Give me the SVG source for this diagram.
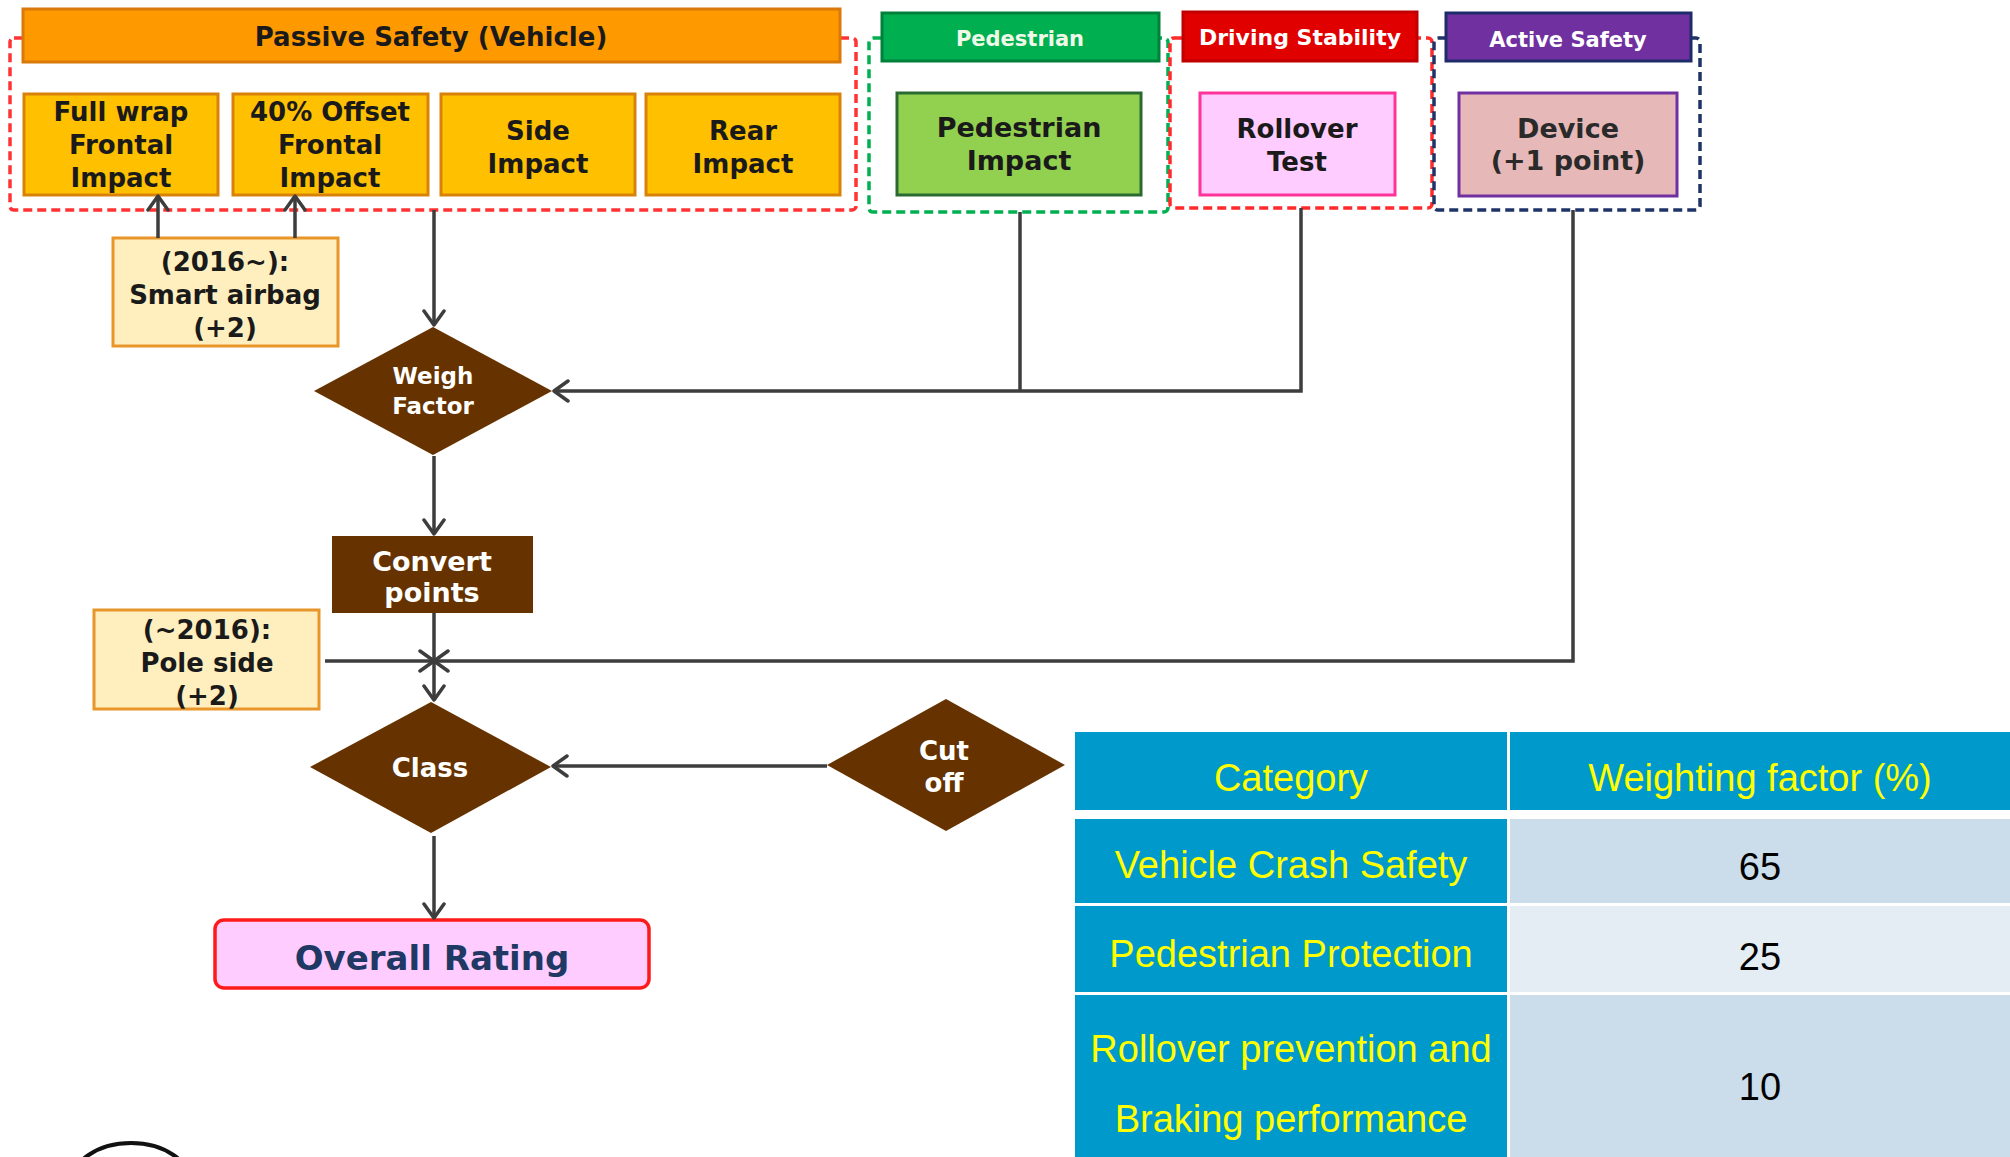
<svg xmlns="http://www.w3.org/2000/svg" width="2010" height="1157" viewBox="0 0 2010 1157">
<defs>
<marker id="arr" viewBox="0 0 18 24" refX="16" refY="12" markerWidth="18" markerHeight="24" markerUnits="userSpaceOnUse" orient="auto">
<path d="M2,2 L16,12 L2,22" fill="none" stroke="#3d3d3d" stroke-width="3.5" stroke-linecap="round" stroke-linejoin="round"/>
</marker>
<style>
.ft{font-family:"DejaVu Sans","Liberation Sans",sans-serif;font-weight:bold;text-anchor:middle;}
.dk{fill:#1a1a1a;}
.wt{fill:#ffffff;}
.imp{fill:#FFC000;stroke:#D9820A;stroke-width:3;}
.note{fill:#FFEFBF;stroke:#E8962A;stroke-width:3;}
.brown{fill:#663300;}
.dash{fill:none;stroke-width:3.5;stroke-dasharray:9 5;}
.conn{fill:none;stroke:#3d3d3d;stroke-width:3.5;}
.tb{font-family:"Liberation Sans",Arial,sans-serif;font-size:38px;text-anchor:middle;}
.yl{fill:#FFFF00;}
.blue{fill:#0099CC;}
</style>
</defs>
<rect width="2010" height="1157" fill="#ffffff"/>

<!-- dashed group boxes -->
<g id="groups">
<rect class="dash" x="10" y="38" width="846" height="172" rx="4" stroke="#FF3333"/>
<rect class="dash" x="869" y="38" width="299" height="174" rx="4" stroke="#00B050"/>
<rect class="dash" x="1170" y="38" width="262" height="170" rx="4" stroke="#FF2A2A"/>
<rect class="dash" x="1434" y="38" width="266" height="172" rx="4" stroke="#1F3366"/>
</g>

<g id="passive-header">
<rect x="23" y="9" width="817" height="53" fill="#FF9900" stroke="#D9790A" stroke-width="3"/>
<text class="ft dk" x="431" y="46" font-size="26">Passive Safety (Vehicle)</text>
</g>
<g id="full-wrap">
<rect class="imp" x="24" y="94" width="194" height="101"/>
<text class="ft dk" x="121" y="121" font-size="26">Full wrap</text>
<text class="ft dk" x="121" y="154" font-size="26">Frontal</text>
<text class="ft dk" x="121" y="187" font-size="26">Impact</text>
</g>
<g id="offset">
<rect class="imp" x="233" y="94" width="195" height="101"/>
<text class="ft dk" x="330" y="121" font-size="26">40% Offset</text>
<text class="ft dk" x="330" y="154" font-size="26">Frontal</text>
<text class="ft dk" x="330" y="187" font-size="26">Impact</text>
</g>
<g id="side">
<rect class="imp" x="441" y="94" width="194" height="101"/>
<text class="ft dk" x="538" y="140" font-size="26">Side</text>
<text class="ft dk" x="538" y="173" font-size="26">Impact</text>
</g>
<g id="rear">
<rect class="imp" x="646" y="94" width="194" height="101"/>
<text class="ft dk" x="743" y="140" font-size="26">Rear</text>
<text class="ft dk" x="743" y="173" font-size="26">Impact</text>
</g>

<g id="pedestrian-header">
<rect x="882" y="13" width="277" height="48" fill="#00B050" stroke="#00803A" stroke-width="3"/>
<text class="ft" x="1020" y="46" font-size="21" fill="#F0F8E8">Pedestrian</text>
</g>
<g id="pedestrian-impact">
<rect x="897" y="93" width="244" height="102" fill="#92D050" stroke="#2A6A30" stroke-width="3"/>
<text class="ft dk" x="1019" y="137" font-size="27">Pedestrian</text>
<text class="ft dk" x="1019" y="170" font-size="27">Impact</text>
</g>

<g id="driving-header">
<rect x="1183" y="12" width="234" height="49" fill="#E00000" stroke="#C00000" stroke-width="3"/>
<text class="ft wt" x="1300" y="45" font-size="22">Driving Stability</text>
</g>
<g id="rollover">
<rect x="1200" y="93" width="195" height="102" fill="#FFCCFF" stroke="#FF3399" stroke-width="3"/>
<text class="ft dk" x="1297" y="138" font-size="26">Rollover</text>
<text class="ft dk" x="1297" y="171" font-size="26">Test</text>
</g>

<g id="active-header">
<rect x="1446" y="13" width="245" height="48" fill="#7030A0" stroke="#1F2A6B" stroke-width="3"/>
<text class="ft wt" x="1568" y="47" font-size="21">Active Safety</text>
</g>
<g id="device">
<rect x="1459" y="93" width="218" height="103" fill="#E6B8B7" stroke="#7030A0" stroke-width="3"/>
<text class="ft" x="1568" y="138" font-size="27" fill="#2a2a2a">Device</text>
<text class="ft" x="1568" y="170" font-size="27" fill="#2a2a2a">(+1 point)</text>
</g>

<g id="smart-airbag">
<rect class="note" x="113" y="238" width="225" height="108"/>
<text class="ft dk" x="225" y="271" font-size="26">(2016~):</text>
<text class="ft dk" x="225" y="304" font-size="26">Smart airbag</text>
<text class="ft dk" x="225" y="337" font-size="26">(+2)</text>
</g>

<g id="weigh-factor">
<polygon class="brown" points="433,327 552,391 433,455 314,391"/>
<text class="ft wt" x="433" y="384" font-size="23">Weigh</text>
<text class="ft wt" x="433" y="414" font-size="23">Factor</text>
</g>

<g id="convert-points">
<rect class="brown" x="332" y="536" width="201" height="77"/>
<text class="ft wt" x="432" y="571" font-size="27">Convert</text>
<text class="ft wt" x="432" y="602" font-size="27">points</text>
</g>

<g id="pole-side">
<rect class="note" x="94" y="610" width="225" height="99"/>
<text class="ft dk" x="207" y="639" font-size="26">(~2016):</text>
<text class="ft dk" x="207" y="672" font-size="26">Pole side</text>
<text class="ft dk" x="207" y="705" font-size="26">(+2)</text>
</g>

<g id="class">
<polygon class="brown" points="431,702 551,767 431,833 310,767"/>
<text class="ft wt" x="430" y="777" font-size="26">Class</text>
</g>

<g id="cut-off">
<polygon class="brown" points="946,699 1065,765 946,831 827,765"/>
<text class="ft wt" x="944" y="760" font-size="26">Cut</text>
<text class="ft wt" x="944" y="792" font-size="26">off</text>
</g>

<g id="overall-rating">
<rect x="215" y="920" width="434" height="68" rx="9" fill="#FFCCFF" stroke="#FF1A1A" stroke-width="3.5"/>
<text class="ft" x="432" y="970" font-size="34" fill="#1F3864">Overall Rating</text>
</g>

<g id="connectors">
<line class="conn" x1="158" y1="238" x2="158" y2="196" marker-end="url(#arr)"/>
<line class="conn" x1="295" y1="238" x2="295" y2="196" marker-end="url(#arr)"/>
<line class="conn" x1="434" y1="210" x2="434" y2="325" marker-end="url(#arr)"/>
<polyline class="conn" points="1020,212 1020,391"/>
<polyline class="conn" points="1301,208 1301,391 554,391" marker-end="url(#arr)"/>
<line class="conn" x1="434" y1="456" x2="434" y2="534" marker-end="url(#arr)"/>
<line class="conn" x1="434" y1="613" x2="434" y2="700" marker-end="url(#arr)"/>
<line class="conn" x1="325" y1="661" x2="434" y2="661" marker-end="url(#arr)"/>
<polyline class="conn" points="1573,210 1573,661 434,661" marker-end="url(#arr)"/>
<line class="conn" x1="827" y1="766" x2="553" y2="766" marker-end="url(#arr)"/>
<line class="conn" x1="434" y1="836" x2="434" y2="918" marker-end="url(#arr)"/>
</g>

<g id="table">
<rect class="blue" x="1075" y="732" width="432" height="78"/>
<rect class="blue" x="1510" y="732" width="500" height="78"/>
<rect class="blue" x="1075" y="819" width="432" height="84"/>
<rect x="1510" y="819" width="500" height="84" fill="#CBDDEA"/>
<rect class="blue" x="1075" y="906" width="432" height="86"/>
<rect x="1510" y="906" width="500" height="86" fill="#E4ECF4"/>
<rect class="blue" x="1075" y="995" width="432" height="162"/>
<rect x="1510" y="995" width="500" height="162" fill="#CBDDEA"/>
<text class="tb yl" x="1291" y="791">Category</text>
<text class="tb yl" x="1760" y="791">Weighting factor (%)</text>
<text class="tb yl" x="1291" y="878">Vehicle Crash Safety</text>
<text class="tb" x="1760" y="880" font-size="40" fill="#000">65</text>
<text class="tb yl" x="1291" y="967">Pedestrian Protection</text>
<text class="tb" x="1760" y="970" font-size="40" fill="#000">25</text>
<text class="tb yl" x="1291" y="1062">Rollover prevention and</text>
<text class="tb yl" x="1291" y="1132">Braking performance</text>
<text class="tb" x="1760" y="1100" font-size="40" fill="#000">10</text>
</g>

<ellipse cx="131" cy="1184" rx="60" ry="41" fill="none" stroke="#111" stroke-width="4"/>
</svg>
